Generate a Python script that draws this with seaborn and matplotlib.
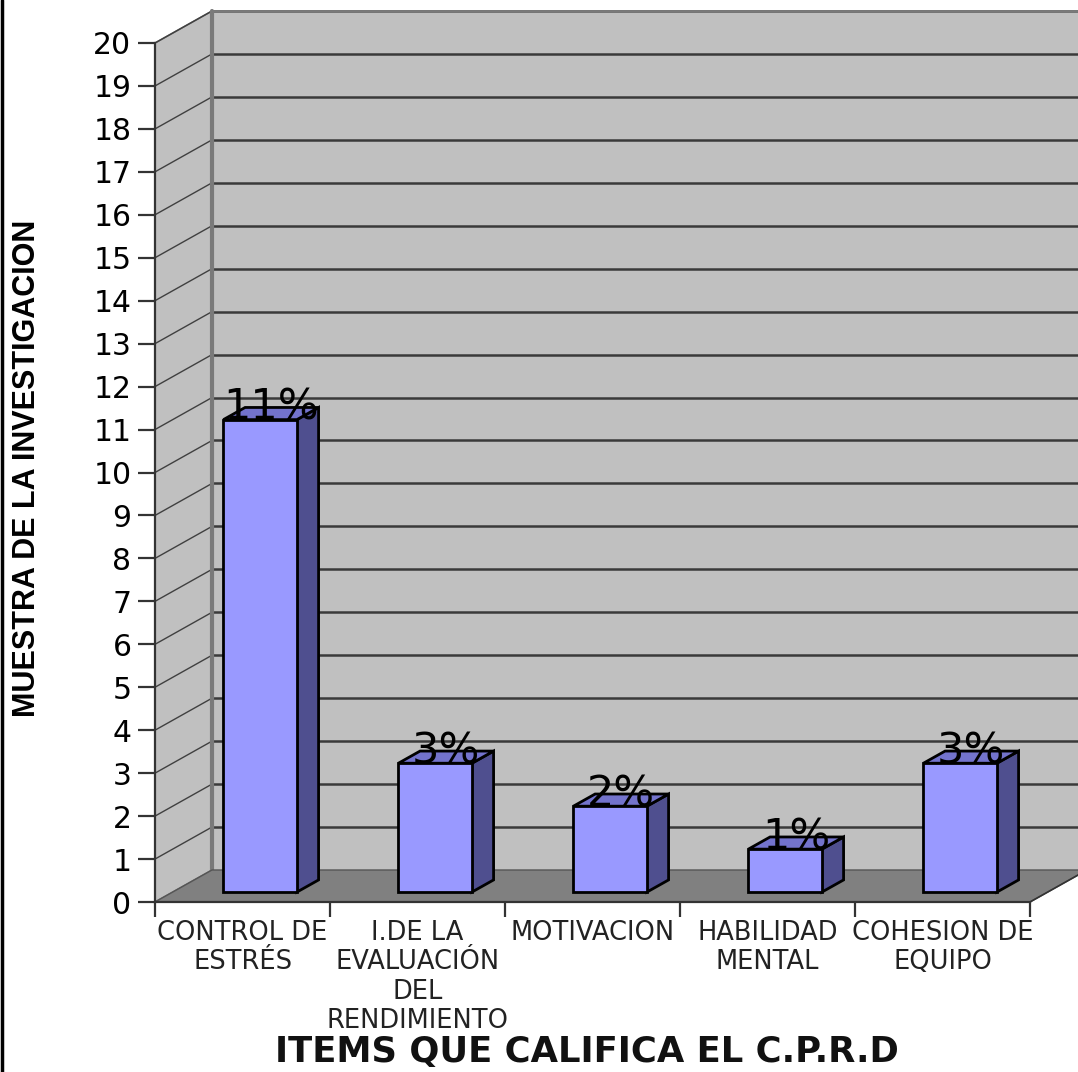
import numpy as np
import pandas as pd
import matplotlib
matplotlib.use("Agg")
import matplotlib.pyplot as plt
from matplotlib import font_manager
from matplotlib.patches import Polygon, Rectangle
from matplotlib.lines import Line2D
import seaborn as sns

# ---- data ----
items = ["CONTROL DE\nESTRÉS",
         "I.DE LA\nEVALUACIÓN\nDEL\nRENDIMIENTO",
         "MOTIVACION",
         "HABILIDAD\nMENTAL",
         "COHESION DE\nEQUIPO"]
values = [11, 3, 2, 1, 3]
bar_labels = ["11%", "3%", "2%", "1%", "3%"]
y_ticks = list(range(0, 21))

# ---- style ----
sns.set_theme(style="white")
plt.rcParams["font.family"] = ["DejaVu Sans"]

available = {f.name for f in font_manager.fontManager.ttflist}
ylabel_family = "Liberation Sans Narrow" if "Liberation Sans Narrow" in available else "Liberation Sans"

FRONT = "#9999FF"
SIDE = "#4F4F8F"
TOP = "#7373CC"
WALL = "#C0C0C0"
FLOOR = "#808080"
GRID = "#3A3A3A"

W, H = 1078, 1072
fig = plt.figure(figsize=(W / 100, H / 100), dpi=100)
fig.patch.set_facecolor("white")

# front plane of the 3-D box
left_px, right_px, bot_px, top_px = 155, 1030, 902, 43
ax = fig.add_axes([left_px / W, 1 - bot_px / H,
                   (right_px - left_px) / W, (bot_px - top_px) / H])
ax.set_facecolor("none")

df = pd.DataFrame({"item": items, "value": values})
sns.barplot(data=df, x="item", y="value", ax=ax, color=FRONT,
            width=0.42, edgecolor="black", linewidth=2, saturation=1,
            zorder=5)

ax.set_xlim(-0.5, 4.5)
ax.set_ylim(0, 20)

# depth vector of the box, in data units
px_x = (right_px - left_px) / 5.0
px_y = (bot_px - top_px) / 20.0
Dx, Dy = 57 / px_x, 32 / px_y
f_front, f_depth = 0.31, 0.38   # bar placement inside the depth

x0, x1 = -0.5, 4.5
# back wall
ax.add_patch(Polygon([(x0 + Dx, Dy), (x1 + Dx + 1, Dy), (x1 + Dx + 1, 20 + Dy), (x0 + Dx, 20 + Dy)],
                     closed=True, facecolor=WALL, edgecolor="none", zorder=0, clip_on=False))
# left wall
ax.add_patch(Polygon([(x0, 0), (x0 + Dx, Dy), (x0 + Dx, 20 + Dy), (x0, 20)],
                     closed=True, facecolor=WALL, edgecolor="#6E6E6E", linewidth=1.2,
                     zorder=0.5, clip_on=False))
# grid on back wall and left wall
for v in y_ticks[1:]:
    ax.add_line(Line2D([x0 + Dx, x1 + Dx + 1], [v + Dy, v + Dy], color=GRID,
                       linewidth=1.8, zorder=1, clip_on=False))
    ax.add_line(Line2D([x0, x0 + Dx], [v, v + Dy], color="#404040",
                       linewidth=1.0, zorder=1, clip_on=False))
# back-wall corner edge
ax.add_line(Line2D([x0 + Dx, x0 + Dx], [Dy, 20 + Dy], color="#7A7A7A",
                   linewidth=3, zorder=1.2, clip_on=False))
ax.add_line(Line2D([x0 + Dx, x1 + Dx + 1], [20 + Dy, 20 + Dy], color="#7A7A7A",
                   linewidth=2, zorder=1.2, clip_on=False))
# floor
ax.add_patch(Polygon([(x0, 0), (x1, 0), (x1 + Dx, Dy), (x0 + Dx, Dy)],
                     closed=True, facecolor=FLOOR, edgecolor="#555555", linewidth=1,
                     zorder=2, clip_on=False))

# move bars into the depth and add their side / top faces
for patch, lab, val in zip(ax.patches, bar_labels, values):
    if not isinstance(patch, Rectangle) or patch.get_height() <= 0:
        continue
    bx, bw, bh = patch.get_x(), patch.get_width(), patch.get_height()
    bx0, by0 = bx + f_front * Dx, f_front * Dy
    patch.set_x(bx0)
    patch.set_y(by0)
    ex, ey = f_depth * Dx, f_depth * Dy
    ax.add_patch(Polygon([(bx0 + bw, by0), (bx0 + bw + ex, by0 + ey),
                          (bx0 + bw + ex, by0 + bh + ey), (bx0 + bw, by0 + bh)],
                         closed=True, facecolor=SIDE, edgecolor="black", linewidth=2,
                         zorder=4.9, clip_on=False))
    ax.add_patch(Polygon([(bx0, by0 + bh), (bx0 + ex, by0 + bh + ey),
                          (bx0 + bw + ex, by0 + bh + ey), (bx0 + bw, by0 + bh)],
                         closed=True, facecolor=TOP, edgecolor="black", linewidth=2,
                         zorder=4.9, clip_on=False))
    ax.text(bx0 + bw / 2 + ex / 2, by0 + bh, lab, ha="center", va="baseline",
            fontsize=31, color="black", zorder=6, clip_on=False)

# right front edge of the floor
ax.add_line(Line2D([x1, x1 + Dx + 0.2], [0, Dy + 0.2 * Dy / Dx], color="#333333",
                   linewidth=1.2, zorder=2.5, clip_on=False))

for side in ["top", "right"]:
    ax.spines[side].set_visible(False)
for side in ["left", "bottom"]:
    ax.spines[side].set_color("#333333")
    ax.spines[side].set_linewidth(1.6)
    ax.spines[side].set_zorder(3)

ax.set_yticks(y_ticks)
ax.set_yticklabels([str(t) for t in y_ticks], fontsize=21.5, color="black")
ax.tick_params(axis="y", which="major", direction="out", length=12, width=1.6,
               color="#333333", pad=5, left=True)

ax.set_xticks(range(len(items)))
ax.set_xticklabels(items, fontsize=18.5, color="#222222", linespacing=1.17)
ax.set_xticks(np.arange(-0.5, 5.0, 1.0), minor=True)
ax.tick_params(axis="x", which="major", direction="in", length=7, width=1.6,
               color="#333333", pad=13, bottom=True)
ax.tick_params(axis="x", which="minor", direction="out", length=11, width=1.6,
               color="#333333", bottom=True)
ax.set_xlabel("")
ax.set_ylabel("")

fig.text(27 / W, 1 - 468 / H, "MUESTRA DE LA INVESTIGACION", rotation=90,
         ha="center", va="center", fontsize=22, fontweight="bold",
         family=ylabel_family, color="black")
fig.text(587 / W, 1 - 1052 / H, "ITEMS QUE CALIFICA EL C.P.R.D",
         ha="center", va="center", fontsize=25.5, fontweight="bold", color="#111111")

# thin frame on the left edge
fig.add_artist(Line2D([2 / W, 2 / W], [0, 1], color="black", linewidth=2.5,
                      transform=fig.transFigure))

fig.savefig("out.png", dpi=100)
